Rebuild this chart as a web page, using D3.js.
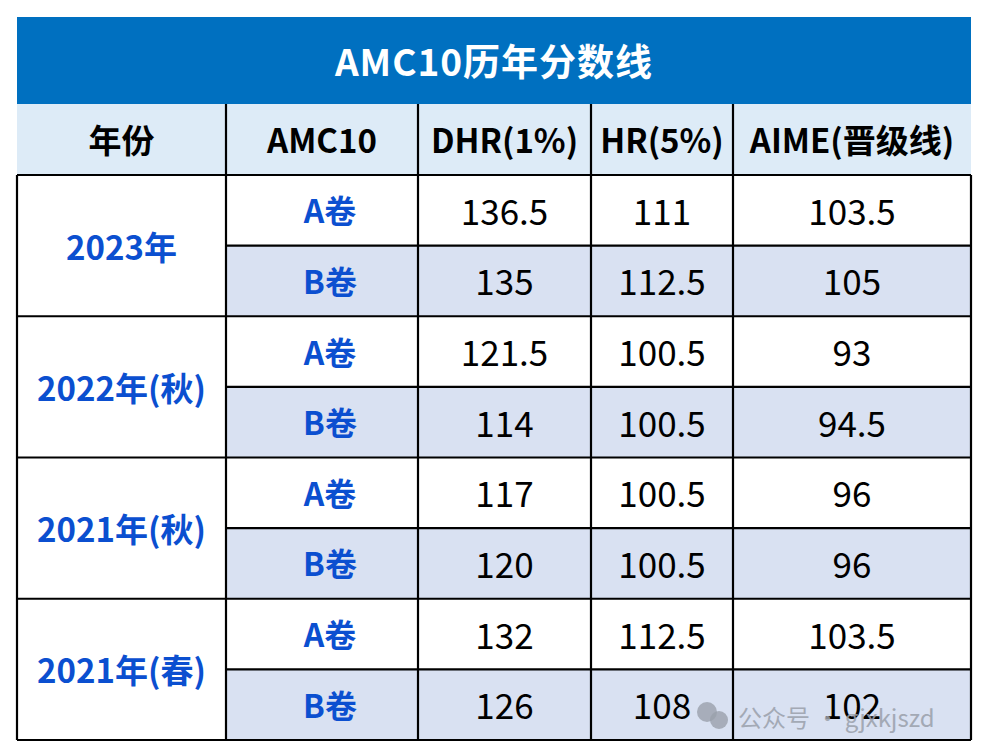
<!DOCTYPE html>
<html><head><meta charset="utf-8">
<script src="https://cdn.jsdelivr.net/npm/d3@7"></script>
<style>body{margin:0;background:#fff}</style></head>
<body><svg id="c" width="988" height="756"></svg>
<script>
const title = "AMC10历年分数线";
const headers = ["年份","AMC10","DHR(1%)","HR(5%)","AIME(晋级线)"];
const years = ["2023年","2022年(秋)","2021年(秋)","2021年(春)"];
const papers = ["A卷","B卷"];
const dhr = ["136.5","135","121.5","114","117","120","132","126"];
const hr = ["111","112.5","100.5","100.5","100.5","100.5","112.5","108"];
const aime = ["103.5","105","93","94.5","96","96","103.5","102"];

const svg = d3.select("#c");
const font = "'Microsoft YaHei','Noto Sans CJK SC','Open Sans',sans-serif";
const colEdges = [17,226,418,591,733,971];
const colX = i => colEdges[i];
const y = d3.scaleLinear().domain([0,8]).range([175,740]);
const rowH = y(1)-y(0);

svg.append("rect").attr("x",17).attr("y",17).attr("width",954).attr("height",87).attr("fill","#0070c0");
svg.append("text").attr("x",494).attr("y",60).attr("text-anchor","middle").attr("dominant-baseline","central")
  .attr("fill","#fff").attr("font-family",font).attr("font-weight","bold").attr("font-size",37).attr("letter-spacing",1).text(title);
svg.append("rect").attr("x",17).attr("y",104).attr("width",954).attr("height",71).attr("fill","#ddebf7");
headers.forEach((h,i)=>{
  svg.append("text").attr("x",(colX(i)+colX(i+1))/2).attr("y",139).attr("text-anchor","middle").attr("dominant-baseline","central")
   .attr("font-family",font).attr("font-weight","bold").attr("font-size",33).attr("fill","#000").text(h);
});
d3.range(8).forEach(r=>{
  if(r%2===1) svg.append("rect").attr("x",colX(1)).attr("y",y(r)).attr("width",colX(5)-colX(1)).attr("height",rowH).attr("fill","#d9e1f2");
});
years.forEach((t,k)=>{
  svg.append("text").attr("x",(colX(0)+colX(1))/2).attr("y",y(2*k+1)).attr("text-anchor","middle").attr("dominant-baseline","central")
   .attr("font-family",font).attr("font-weight","bold").attr("font-size",33).attr("fill","#0b4fd0").text(t);
});
const cols=[dhr,hr,aime];
d3.range(8).forEach(r=>{
  const cy=y(r)+rowH/2-1;
  svg.append("text").attr("x",(colX(1)+colX(2))/2+8).attr("y",cy).attr("text-anchor","middle").attr("dominant-baseline","central")
   .attr("font-family",font).attr("font-weight","bold").attr("font-size",32).attr("fill","#0b4fd0").text(papers[r%2]);
  cols.forEach((arr,j)=>{
    svg.append("text").attr("x",(colX(j+2)+colX(j+3))/2).attr("y",cy).attr("text-anchor","middle").attr("dominant-baseline","central")
     .attr("font-family",font).attr("font-size",35).attr("fill","#000").text(arr[r]);
  });
});
svg.append("circle").attr("cx",707).attr("cy",712).attr("r",10).attr("fill","#9aa0ab").attr("opacity",0.8);
svg.append("circle").attr("cx",719).attr("cy",720).attr("r",9).attr("fill","#9aa0ab").attr("opacity",0.8);
svg.append("text").attr("x",738).attr("y",716).attr("dominant-baseline","central").attr("font-family",font)
  .attr("font-size",24).attr("fill","#9aa0ab").attr("opacity",0.85).text("公众号 · gjxkjszd");

const g=svg.append("g").attr("stroke","#000").attr("stroke-width",2.2).attr("fill","none");
[1,2,3,4].forEach(i=>g.append("line").attr("x1",colX(i)).attr("x2",colX(i)).attr("y1",104).attr("y2",740));
[0,5].forEach(i=>g.append("line").attr("x1",colX(i)).attr("x2",colX(i)).attr("y1",175).attr("y2",740));
d3.range(9).forEach(r=>{
  g.append("line").attr("x1",r%2===1?colX(1):colX(0)).attr("x2",colX(5)).attr("y1",y(r)).attr("y2",y(r));
});
</script></body></html>
